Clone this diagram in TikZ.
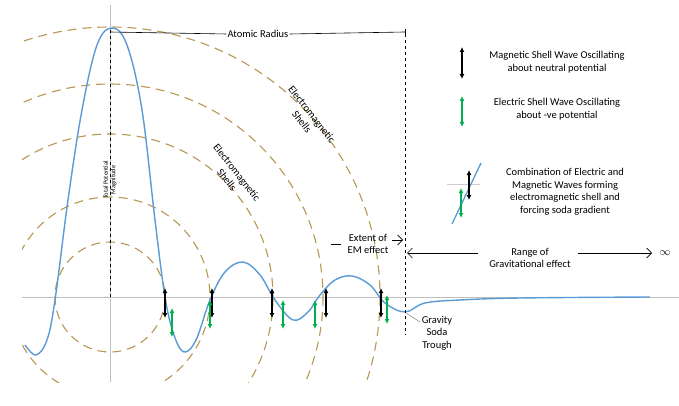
\documentclass[tikz,border=0pt]{standalone}
\usepackage{fontspec}
\setmainfont{Carlito}
\usetikzlibrary{arrows.meta}
\definecolor{shell}{RGB}{184,152,82}
\definecolor{wave}{RGB}{91,155,213}
\definecolor{egreen}{RGB}{0,176,80}
\begin{document}
\begin{tikzpicture}[x=1pt,y=-1pt,
  shellc/.style={shell,line width=1.1pt,dash pattern=on 9pt off 6pt},
  magarr/.style={black,line width=1.1pt,{Latex[length=5pt,width=5pt]}-{Latex[length=5pt,width=5pt]}},
  elarr/.style={egreen,line width=1.1pt,{Latex[length=5pt,width=5pt]}-{Latex[length=5pt,width=5pt]}},
  lbl/.style={font=\fontsize{10.5}{12.5}\selectfont,align=center,inner sep=1pt},
  dim/.style={black,line width=0.6pt,-{Straight Barb[length=5pt]}}]
\useasboundingbox (0,0) rectangle (679,406);
\fill[white] (0,0) rectangle (679,406);
\begin{scope}
\clip (22,0) rectangle (679,382);
\foreach \r in {55,100,163,213,270}
  \draw[shellc] (110,297) circle (\r);
\end{scope}
\fill[white] (405,0) rectangle (679,406);
\draw[gray!50,line width=0.5pt] (22,297) -- (679,297);
\draw[gray!50,line width=0.5pt] (110,5) -- (110,382);
\draw[black,dashed,line width=0.5pt] (110,30) -- (110,297);
\node[lbl,rotate=90,font=\fontsize{6.5}{7.5}\selectfont] (tpm) at (110,180) {Total Potential\\Magnitude};
\draw[wave,line width=1.4pt] plot[smooth,tension=0.6] coordinates {
 (25,345) (36,355) (47,340) (55,300) (68,200) (82,110) (97,45) (112,28) (127,45)
 (142,110) (155,220) (165,297) (174,335) (184,352) (196,340) (210,300) (225,272) (243,262)
 (260,275) (275,300) (293,320) (308,312) (320,295) (335,280) (352,276) (370,285) (385,303)
 (405,312) (425,303) (460,300) (520,298) (650,297)};
% atomic radius
\coordinate (ar0) at (110,32);
\coordinate (ar1) at (405,32);
\node[lbl,fill=white] (ar) at (258,34) {Atomic Radius};
\draw[line width=0.6pt] (ar0) -- (ar.west) (ar.east) -- (ar1);
\draw[line width=0.6pt] (405,29) -- (405,35);
\draw[black,dashed,line width=0.5pt] (405,34) -- (405,335);
% extent of EM
\node[lbl] (em) at (368,244) {Extent of\\EM effect};
\draw[line width=0.6pt] (331,244) -- (341,244);
\draw[dim] (392,240) -- (403,240);
% range of gravitational
\node[lbl] (rg) at (530,258) {Range of\\Gravitational effect};
\draw[dim] (478,253) -- (407,253);
\draw[dim] (578,253) -- (652,253);
\node[lbl] (inf) at (665,253) {$\infty$};
% soda trough
\node[lbl] (gst) at (437,333) {Gravity\\Soda\\Trough};
\draw[gray,line width=0.5pt] (420,322) -- (406,313);
% arrows on curve
\foreach \x in {165,212,272,326,381} \draw[magarr] (\x,288) -- (\x,318);
\foreach \x/\a in {172/308,210/300,283/300,315/300,387/295} \draw[elarr] (\x,\a) -- (\x,\a+29);
% electromagnetic labels
\node[lbl,rotate=-52] (ems1) at (307,118) {Electromagnetic\\Shells};
\node[lbl,rotate=-52] (ems2) at (232,176) {Electromagnetic\\Shells};
% legend
\draw[magarr] (462,47) -- (462,79);
\node[lbl] (l1) at (557,62) {Magnetic Shell Wave Oscillating\\about neutral potential};
\draw[elarr] (462,96) -- (462,127);
\node[lbl] (l2) at (557,109) {Electric Shell Wave Oscillating\\about -ve potential};
\draw[gray!40,line width=0.5pt] (447,184) -- (480,184);
\draw[wave,line width=1.3pt] (452,224) -- (481,163);
\draw[magarr] (469,170) -- (469,200);
\draw[elarr] (461,188) -- (461,218);
\node[lbl] (l3) at (565,192) {Combination of Electric and\\Magnetic Waves forming\\electromagnetic shell and\\forcing soda gradient};
\end{tikzpicture}
\end{document}
